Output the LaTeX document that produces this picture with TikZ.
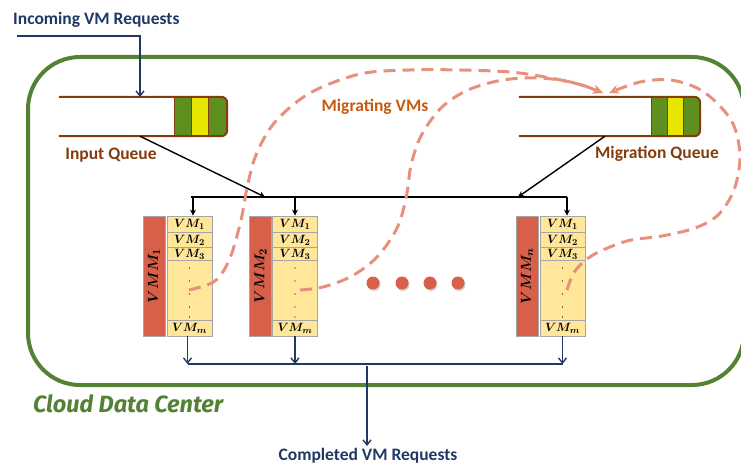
\documentclass[tikz,border=0pt]{standalone}
\usepackage{amsmath,bm}
\usepackage{fontspec}
\setmainfont{Carlito}
\newfontfamily\cdcfont{Fira Sans}
\usetikzlibrary{arrows.meta,shadows}
\definecolor{cdcgreen}{HTML}{548235}
\definecolor{qbrown}{HTML}{843C0C}
\definecolor{qgreen}{HTML}{5F8F1F}
\definecolor{qyellow}{HTML}{E6E600}
\definecolor{navy}{HTML}{203864}
\definecolor{vmmred}{HTML}{D8604A}
\definecolor{colfill}{HTML}{FFE699}
\definecolor{colgray}{HTML}{A6A6A6}
\definecolor{migr}{HTML}{E8907E}
\definecolor{migtext}{HTML}{C55A11}
\tikzset{
  cdcbox/.style={draw=cdcgreen, line width=4pt, rounded corners=52pt},
  qbody/.style={inner sep=0pt, minimum height=39pt},
  qline/.style={draw=qbrown, line width=2pt},
  vmmbar/.style={fill=vmmred, draw=colgray, line width=0.6pt, inner sep=0pt, minimum height=120pt, minimum width=22pt},
  vmcol/.style={fill=colfill, draw=colgray, line width=0.8pt, inner sep=0pt, minimum height=120pt, minimum width=45pt},
  rowline/.style={draw=colgray, line width=1.4pt},
  vmtext/.style={font=\fontsize{12.5}{12.5}\selectfont, inner sep=0pt},
  vmmtext/.style={font=\fontsize{15}{15}\selectfont, rotate=90, inner sep=0pt},
  blackarr/.style={draw=black, line width=1.4pt, -{Stealth[length=6pt,width=6pt]}},
  blackline/.style={draw=black, line width=1.4pt},
  navyarr/.style={draw=navy, line width=1.4pt, -{Straight Barb[length=5pt,width=8pt]}},
  navyline/.style={draw=navy, line width=1.4pt},
  migline/.style={draw=migr, line width=3pt, dash pattern=on 12pt off 7pt, -{Stealth[length=10pt,width=9pt]}},
  reddot/.style={circle, fill=vmmred, minimum size=13pt, inner sep=0pt, drop shadow={shadow xshift=1pt, shadow yshift=-1.5pt, opacity=0.35}},
  lbl/.style={font=\fontsize{17.5}{17.5}\selectfont\bfseries, inner sep=0pt},
  tinydot/.style={circle, fill=black, inner sep=0pt, minimum size=1.3pt}
}
\begin{document}
\begin{tikzpicture}[x=1pt,y=-1pt]
\useasboundingbox (0,0) rectangle (741,465);
\begin{scope}
\clip (0,0) rectangle (741,465);
\draw[cdcbox] (28,57) rectangle (744,385);
\end{scope}

% ---------- queues ----------
\node[qbody, minimum width=168pt] (inq) at (143,116.5) {};
\node[qbody, minimum width=181pt] (mq) at (609.5,116.5) {};

% input queue blocks
\fill[qgreen, rounded corners=6pt] (174,97) rectangle (227,136);
\fill[qgreen] (174,97) rectangle (200,136);
\fill[qyellow] (191,97) rectangle (208,136);
\draw[qbrown, line width=1pt] (174,97) -- (174,136) (191,97) -- (191,136) (208,97) -- (208,136);
\draw[qline, rounded corners=6pt] (inq.north west) -- (inq.north east) -- (inq.south east) -- (inq.south west);

% migration queue blocks
\fill[qgreen, rounded corners=6pt] (651,97) rectangle (700,136);
\fill[qgreen] (651,97) rectangle (675,136);
\fill[qyellow] (667,97) rectangle (683,136);
\draw[qbrown, line width=1pt] (651,97) -- (651,136) (667,97) -- (667,136) (683,97) -- (683,136);
\draw[qline, rounded corners=6pt] (mq.north west) -- (mq.north east) -- (mq.south east) -- (mq.south west);

% ---------- labels ----------
\node[lbl, navy, anchor=west] (inc) at (13,20) {Incoming VM Requests};
\node[lbl, qbrown] (inql) at (111,155) {Input Queue};
\node[lbl, qbrown] (mql) at (657,154) {Migration Queue};
\node[lbl, migtext] (migl) at (375,107) {Migrating VMs};
\node[lbl, navy] (compl) at (368,456) {Completed VM Requests};
\node[font=\cdcfont\fontsize{23.5}{23.5}\selectfont\bfseries\itshape, text=cdcgreen, anchor=west, inner sep=0pt] (cdcl) at (33,404) {Cloud Data Center};

% incoming arrow
\coordinate (incstart) at (17,36);
\draw[navyarr] (incstart) -- (140,36) -- (140,97);

% ---------- VMM columns ----------
\foreach \name/\bx/\cx/\sub in {1/154/189.5/1, 2/260.5/295/2, n/527/562.5/n}{
  \node[vmmbar] (vmm\name) at (\bx,276) {};
  \node[vmmtext] at (vmm\name) {$\bm{VMM_{\sub}}$};
  \node[vmcol] (col\name) at (\cx,276) {};
  \draw[rowline] ([yshift=-17pt]col\name.north west) -- ([yshift=-17pt]col\name.north east);
  \draw[rowline] ([yshift=-32pt]col\name.north west) -- ([yshift=-32pt]col\name.north east);
  \draw[rowline] ([yshift=-45pt]col\name.north west) -- ([yshift=-45pt]col\name.north east);
  \draw[rowline] ([yshift=16pt]col\name.south west) -- ([yshift=16pt]col\name.south east);
  \node[vmtext] at (\cx,224.5) {$\bm{VM_1}$};
  \node[vmtext] at (\cx,240.5) {$\bm{VM_2}$};
  \node[vmtext] at (\cx,254.5) {$\bm{VM_3}$};
  \node[vmtext] at (\cx,328) {$\bm{VM_m}$};
  \foreach \yy in {268,281,294,307,317}{
    \node[tinydot] at (\cx,\yy) {};
  }
}

% red dots
\node[reddot] (d1) at (373,283) {};
\node[reddot] (d2) at (402,283) {};
\node[reddot] (d3) at (430,283) {};
\node[reddot] (d4) at (458,283) {};

% ---------- black distribution ----------
\coordinate (busl) at (col1.north |- 0,197);
\coordinate (busr) at (coln.north |- 0,197);
\coordinate (injoin) at (265,197);
\coordinate (mjoin) at (518,197);
\draw[blackline] ([xshift=1pt]busl) -- ([xshift=4.5pt]busr);
\draw[blackarr] ([xshift=-3pt]inq.south) -- (injoin);
\draw[blackarr] ([xshift=-4.5pt]mq.south) -- (mjoin);
\draw[blackarr] ([xshift=3.5pt]busl) -- ([xshift=3.5pt]col1.north);
\draw[blackarr] (col2.north |- 0,197) -- (col2.north);
\draw[blackarr] ([xshift=4.5pt]busr) -- ([xshift=4.5pt]coln.north);

% ---------- navy collection ----------
\coordinate (cbusl) at ([xshift=-2pt]col1.south |- 0,364);
\coordinate (cbusr) at (coln.south |- 0,364);
\draw[navyline] (cbusl) -- (cbusr);
\draw[navyarr] ([xshift=-2pt]col1.south) -- (cbusl);
\draw[navyarr] (col2.south) -- (col2.south |- 0,364);
\draw[navyarr] (coln.south) -- (cbusr);
\coordinate (outs) at (367,366);
\draw[navyarr] (outs) -- (367,446);

% ---------- migrating curves ----------
\coordinate (m1) at (189,290);
\coordinate (m2) at (300,290);
\coordinate (m3) at (567,290);
\coordinate (mt) at (603,93);
\coordinate (mtr) at (609,93);
\draw[migline] plot[smooth, tension=0.55] coordinates {(m1) (215,281) (230,258) (241,220) (247,188) (256,155) (275,122) (310,93) (360,74) (410,70) (460,70) (510,72) (545,77) (578,84) (mt)};
\draw[migline] plot[smooth, tension=0.55] coordinates {(m2) (323,287) (352,276) (378,256) (398,226) (407,193) (411,165) (421,136) (441,108) (468,90) (503,80) (540,78) (575,83) (mt)};
\draw[migline] plot[smooth, tension=0.55] coordinates {(m3) (575,271) (593,255) (627,241) (662,236) (695,228) (718,215) (734,190) (740,157) (734,126) (718,104) (697,88) (670,80) (640,82) (mtr)};
\end{tikzpicture}
\end{document}
